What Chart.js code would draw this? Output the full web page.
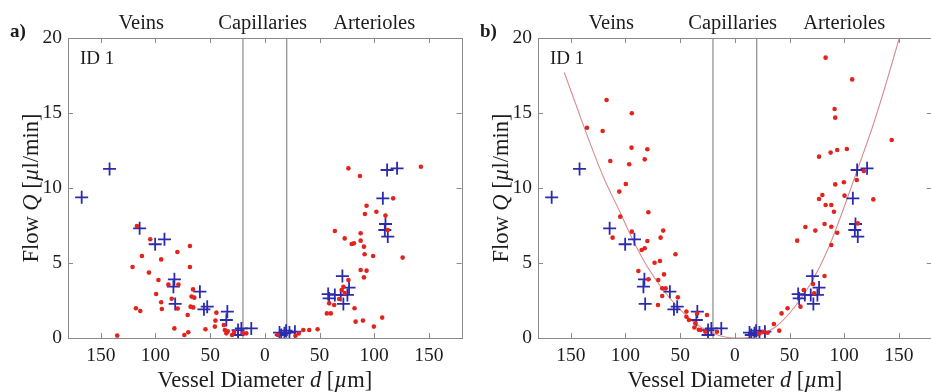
<!DOCTYPE html>
<html><head><meta charset="utf-8">
<script src="https://cdn.jsdelivr.net/npm/chart.js@4.4.0/dist/chart.umd.min.js"></script>
<style>
html,body{margin:0;padding:0;overflow:hidden;background:#fff;width:931px;height:392px;}
.panel{position:absolute;top:0;width:470px;height:392px;}
#pa{left:0}
#pb{left:470px}
</style></head><body>
<div class="panel" id="pa"><canvas id="ca" width="470" height="392"></canvas></div>
<div class="panel" id="pb"><canvas id="cb" width="470" height="392"></canvas></div>
<script>
// ---- axis / label data ----
const xTickValues = [-150, -100, -50, 0, 50, 100, 150];
const yTickValues = [0, 5, 10, 15, 20];
const capillaryBounds = [-20, 20];
const regionLabels = ['Veins', 'Capillaries', 'Arterioles'];
const regionCenters = [-113, -2, 100];
const panelLetters = ['a)', 'b)'];
const idLabel = 'ID 1';

// ---- measured vessels (blue crosses), same in both panels ----
const measuredD = [-167.5, -142, -114.5, -100.3, -91.8, -82.7, -83.6, -82, -59.4, -55.7, -52.7, -34.3, -35.2, -24.5, -21.5, -12.4, -24.5,
  13.4, 17.9, 19.4, 22.5, 27.5, 15,
  111.8, 120.9, 107.9, 110.3, 109.7, 112.4, 70.9, 57.9, 58.8, 69.4, 75.5, 77, 71.8, 64];
const measuredQ = [9.38, 11.27, 7.31, 6.25, 6.58, 3.91, 3.42, 2.27, 3.09, 1.91, 2.09, 1.76, 1.2, 0.53, 0.64, 0.64, 0.2,
  0.36, 0.31, 0.49, 0.36, 0.42, 0.2,
  11.2, 11.31, 9.31, 7.6, 7.2, 6.76, 4.13, 2.93, 2.64, 2.87, 2.87, 3.36, 2.27, 2.87];

// ---- panel a: simulated vessels (red dots) ----
const simD_a = [-117, -104.8, -112.4, -121, -106, -94.8, -80, -68.5, -68.5, -97.3, -88.2, -79, -99.4, -85.2, -65.7, -67, -64.5, -94.8, -94.2, -117.9, -113.9, -79.7, -67.9, -65.5, -70.6, -44.3, -45.2, -54.3, -82.7, -70, -73.6, -135, -45.7, -37.5, -36.6, -35.2, -33.9, -30, -28, -20, -17,
  11.8, 28, 31, 35.2, 40.6, 48.2, 56.7, 60.3, 58.8, 63.4, 70.3, 71.8, 76.4, 82, 83, 89.7, 99.7, 107.3, 90.6, 87.6, 93, 126, 99, 91.2, 90.6, 79.4, 81.5, 87.6, 73, 87.6, 64, 112.4, 110.3, 91.5, 102, 93, 117.3, 87, 76.4, 142.7, 68, 73];
const simQ_a = [7.47, 6.58, 5.47, 4.73, 4.36, 5.24, 5.73, 6.13, 4.73, 3.87, 3.56, 3.56, 2.93, 2.62, 3.24, 2.76, 2.69, 2.38, 1.93, 1.98, 1.8, 1.96, 2.09, 2.04, 1.53, 1.69, 1.16, 0.58, 0.64, 0.38, 0.2, 0.16, 0.76, 0.87, 0.53, 0.31, 0.45, 0.2, 0.4, 0.31, 0.31,
  0.2, 0.15, 0.3, 0.53, 0.53, 0.58, 1.64, 1.64, 2.31, 2.2, 3.2, 3.42, 3.87, 1.98, 1.09, 1.16, 0.76, 1.36, 4.04, 4.53, 4.49, 5.36, 5.47, 5.58, 6.09, 6.27, 6.31, 6.49, 6.64, 6.98, 7.13, 7.2, 8.16, 8.27, 8.42, 8.82, 9.31, 10.8, 11.31, 11.42, 2.6, 3.0];

// ---- panel b: simulated vessels (red dots) ----
const simD_b = [-117.3, -94.2, -135.2, -120.9, -94.5, -80, -82.4, -113.9, -96.6, -99.7, -105.7, -79.1, -104.8, -94.2, -65.5, -111.8, -67.9, -80, -82.4, -85.2, -54.3, -68.5, -73.4, -88.2, -64.8, -79.1, -70, -66.4, -63.3, -66.4, -52.1, -70.3, -44.3, -44.3, -34.5, -25.5, -42, -36.1, -31.5, -27, -16.4, -37, -33,
  83, 107.3, 91.2, 91.8, 143.4, 102.4, 93.6, 87.6, 77, 117.9, 111.5, 99.7, 91.8, 80, 77, 100.3, 126.6, 83, 88.2, 90.6, 112.4, 64.5, 82, 88.2, 73.6, 93.6, 57, 88.2, 82, 71.5, 63, 72.5, 60, 48.2, 42.7, 35.7, 40.6, 26, 22, 30];
const simQ_b = [15.87, 14.98, 14.02, 13.8, 12.69, 12.58, 11.91, 11.8, 11.58, 10.27, 9.76, 8.38, 8.09, 7.09, 7.16, 6.69, 6.69, 6.47, 5.98, 5.87, 5.58, 5.13, 5.02, 4.47, 4.24, 3.91, 3.87, 3.31, 3.31, 2.8, 2.71, 2.2, 1.76, 1.42, 1.64, 1.53, 1.2, 0.98, 0.53, 0.42, 0.42, 0.7, 0.55,
  18.69, 17.24, 15.27, 14.69, 13.2, 12.6, 12.53, 12.36, 12.09, 11.13, 10.53, 10.38, 10.24, 9.53, 9.27, 9.49, 9.24, 8.87, 8.87, 8.42, 7.64, 7.4, 7.6, 7.42, 7.16, 7.02, 6.49, 6.2, 4.13, 3.6, 3.2, 2.98, 2.09, 1.98, 1.64, 0.93, 0.49, 0.42, 0.3, 0.35];

// ---- panel b: fitted curve ----
const fitD = [-156, -145, -134.5, -120, -105.7, -93, -80, -66, -52.7, -40, -30, -19.4, -10, 0, 10, 20, 30, 38, 50, 60, 71.5, 85, 98.8, 112, 126, 138, 150, 153];
const fitQ = [17.7, 15.5, 13.4, 10.7, 8.5, 6.5, 4.75, 3.25, 2.1, 1.2, 0.68, 0.3, 0.08, 0, 0.02, 0.12, 0.42, 0.78, 1.65, 2.6, 3.9, 5.9, 8.5, 11.2, 14.1, 16.9, 19.9, 20.6];

const SERIF = '"Liberation Serif", "Times New Roman", serif';
const TXT = '#1c1c1c';
const FRAME = '#8a8a8a';

function pts(xs, ys) { return xs.map((x, i) => ({x: x, y: ys[i]})); }

function drawRich(ctx, parts, x, y, size) {
  ctx.textAlign = 'left';
  ctx.textBaseline = 'alphabetic';
  const fonts = parts.map(p => (p.i ? 'italic ' : '') + size + 'px ' + SERIF);
  const widths = parts.map((p, k) => { ctx.font = fonts[k]; return ctx.measureText(p.t).width; });
  const total = widths.reduce((a, b) => a + b, 0);
  let cx = x - total / 2;
  parts.forEach((p, k) => { ctx.font = fonts[k]; ctx.fillText(p.t, cx, y); cx += widths[k]; });
}

const decor = {
  id: 'decor',
  afterDraw(chart, args, opts) {
    const ctx = chart.ctx;
    const a = chart.chartArea;
    const xs = chart.scales.x, ys = chart.scales.y;
    ctx.save();
    // frame
    ctx.strokeStyle = FRAME;
    ctx.lineWidth = 1;
    ctx.strokeRect(Math.round(a.left) + 0.5, Math.round(a.top) + 0.5, Math.round(a.right - a.left), Math.round(a.bottom - a.top));
    // inward ticks
    ctx.beginPath();
    xTickValues.forEach(v => {
      const px = Math.round(xs.getPixelForValue(v)) + 0.5;
      ctx.moveTo(px, a.bottom); ctx.lineTo(px, a.bottom - 5);
      ctx.moveTo(px, a.top); ctx.lineTo(px, a.top + 5);
    });
    yTickValues.forEach(v => {
      const py = Math.round(ys.getPixelForValue(v)) + 0.5;
      ctx.moveTo(a.left, py); ctx.lineTo(a.left + 5, py);
      ctx.moveTo(a.right, py); ctx.lineTo(a.right - 5, py);
    });
    ctx.stroke();
    ctx.fillStyle = TXT;
    // region labels
    ctx.font = '20.5px ' + SERIF;
    ctx.textAlign = 'center';
    ctx.textBaseline = 'alphabetic';
    regionLabels.forEach((t, k) => ctx.fillText(t, xs.getPixelForValue(regionCenters[k]), 29));
    // panel letter
    ctx.font = 'bold 19px ' + SERIF;
    ctx.textAlign = 'left';
    ctx.fillText(opts.letter, 10, 37);
    // ID label
    ctx.font = '19px ' + SERIF;
    ctx.fillText(idLabel, a.left + 12, 64);
    // x title
    drawRich(ctx, [{t: 'Vessel Diameter '}, {t: 'd', i: true}, {t: ' ['}, {t: 'µ', i: true}, {t: 'm]'}],
      (a.left + a.right) / 2, 387, 22.5);
    // y title
    ctx.translate(38, (a.top + a.bottom) / 2);
    ctx.rotate(-Math.PI / 2);
    drawRich(ctx, [{t: 'Flow '}, {t: 'Q', i: true}, {t: ' ['}, {t: 'µ', i: true}, {t: 'l/min]'}], 0, 0, 22.5);
    ctx.restore();
  }
};

function makeChart(canvasId, letter, simD, simQ, showFit) {
  const datasets = [
    {label: 'sim', data: pts(simD, simQ), pointStyle: 'circle', pointRadius: 2.3, pointBackgroundColor: '#e3231c', pointBorderWidth: 0, borderColor: '#e3231c', order: 0},
    {label: 'meas', data: pts(measuredD, measuredQ), pointStyle: 'cross', pointRadius: 6.5, pointBorderWidth: 1.8, pointBorderColor: '#2b2bae', borderColor: '#2b2bae', order: 1},
  ];
  capillaryBounds.forEach(b => datasets.push({label: 'cap', data: [{x: b, y: 0}, {x: b, y: 20}], showLine: true, borderColor: '#8a8a8a', borderWidth: 1.2, pointRadius: 0, order: 3}));
  if (showFit) datasets.push({label: 'fit', data: pts(fitD, fitQ), showLine: true, borderColor: '#d98d8d', borderWidth: 1.1, pointRadius: 0, cubicInterpolationMode: 'monotone', order: 2});
  return new Chart(document.getElementById(canvasId), {
    type: 'scatter',
    data: {datasets: datasets},
    options: {
      responsive: false,
      animation: false,
      events: [],
      layout: {padding: {top: 38, right: 7, left: 0, bottom: 0}},
      plugins: {legend: {display: false}, tooltip: {enabled: false}, decor: {letter: letter}},
      scales: {
        x: {
          type: 'linear', min: -180, max: 180,
          grid: {display: false, drawTicks: false}, border: {display: false},
          afterBuildTicks: s => { s.ticks = xTickValues.map(v => ({value: v})); },
          afterFit: s => { s.height = 54; },
          ticks: {autoSkip: false, maxRotation: 0, padding: 6, color: TXT, font: {family: SERIF, size: 19.5}, callback: v => String(Math.abs(v))}
        },
        y: {
          type: 'linear', min: 0, max: 20,
          grid: {display: false, drawTicks: false}, border: {display: false},
          afterBuildTicks: s => { s.ticks = yTickValues.map(v => ({value: v})); },
          afterFit: s => { s.width = 68; },
          ticks: {padding: 6, color: TXT, font: {family: SERIF, size: 19.5}}
        }
      }
    },
    plugins: [decor]
  });
}

makeChart('ca', panelLetters[0], simD_a, simQ_a, false);
makeChart('cb', panelLetters[1], simD_b, simQ_b, true);
</script>
</body></html>
